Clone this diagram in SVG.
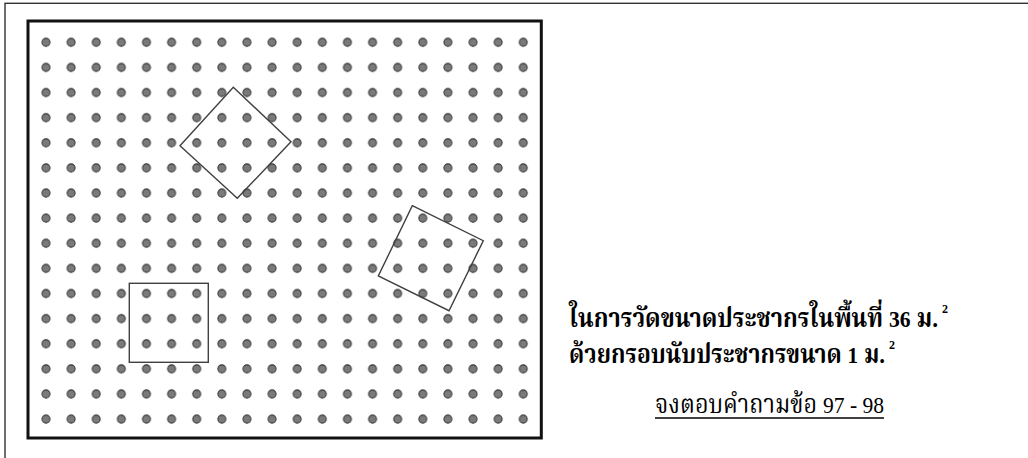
<svg xmlns="http://www.w3.org/2000/svg" width="1028" height="458" viewBox="0 0 1028 458">
  <style>
    .frame { fill: none; stroke: #333; stroke-width: 1.4; }
    .plot { fill: none; stroke: #111; stroke-width: 3; }
    .quad { fill: none; stroke: #404040; stroke-width: 1.4; }
    .dot { fill: #7a7a7a; stroke: #333; stroke-width: 1; }
    .lbl { font-family: "Liberation Serif", "Noto Serif Thai", "Noto Sans Thai", "TH Sarabun New", "Loma", serif; font-size: 26px; fill: #000; }
    .num { font-size: 24px; }
    .b { font-weight: bold; }
    .sup { font-size: 12px; }
    .uline { stroke: #000; stroke-width: 1.3; }
  </style>
  <defs>
    <pattern id="dots" x="33.44" y="29.74" width="25.12" height="25.12" patternUnits="userSpaceOnUse">
      <circle class="dot" cx="12.56" cy="12.56" r="4"/>
    </pattern>
  </defs>
  <rect width="1028" height="458" fill="#fff"/>
  <rect id="frame" class="frame" x="5" y="3.3" width="1040" height="470"/>
  <g id="plot">
    <rect x="33.44" y="29.74" width="502.4" height="401.92" fill="url(#dots)"/>
    <rect class="plot" x="28" y="21" width="513.3" height="417"/>
  </g>
  <g id="quadrats">
    <polygon id="quadrat-diamond" class="quad" points="233.3,87.3 291,141.7 237.3,198.3 180,145.7"/>
    <polygon id="quadrat-tilted" class="quad" points="412.3,205.7 483.3,240.7 449,310.7 378.3,276"/>
    <rect id="quadrat-square" class="quad" x="129.3" y="283.3" width="79" height="79"/>
  </g>
  <g id="caption">
    <text class="lbl b" x="569" y="327" textLength="369" lengthAdjust="spacingAndGlyphs">ในการวัดขนาดประชากรในพื้นที่ <tspan class="num">36</tspan> ม.</text>
    <text class="lbl b sup" x="942" y="313">2</text>
    <text class="lbl b" x="569" y="363" textLength="316" lengthAdjust="spacingAndGlyphs">ด้วยกรอบนับประชากรขนาด <tspan class="num">1</tspan> ม.</text>
    <text class="lbl b sup" x="889" y="349">2</text>
    <text class="lbl" x="655" y="413" textLength="229" lengthAdjust="spacingAndGlyphs">จงตอบคำถามข้อ <tspan class="num">97 - 98</tspan></text>
    <line class="uline" x1="655" y1="418" x2="884" y2="418"/>
  </g>
</svg>
